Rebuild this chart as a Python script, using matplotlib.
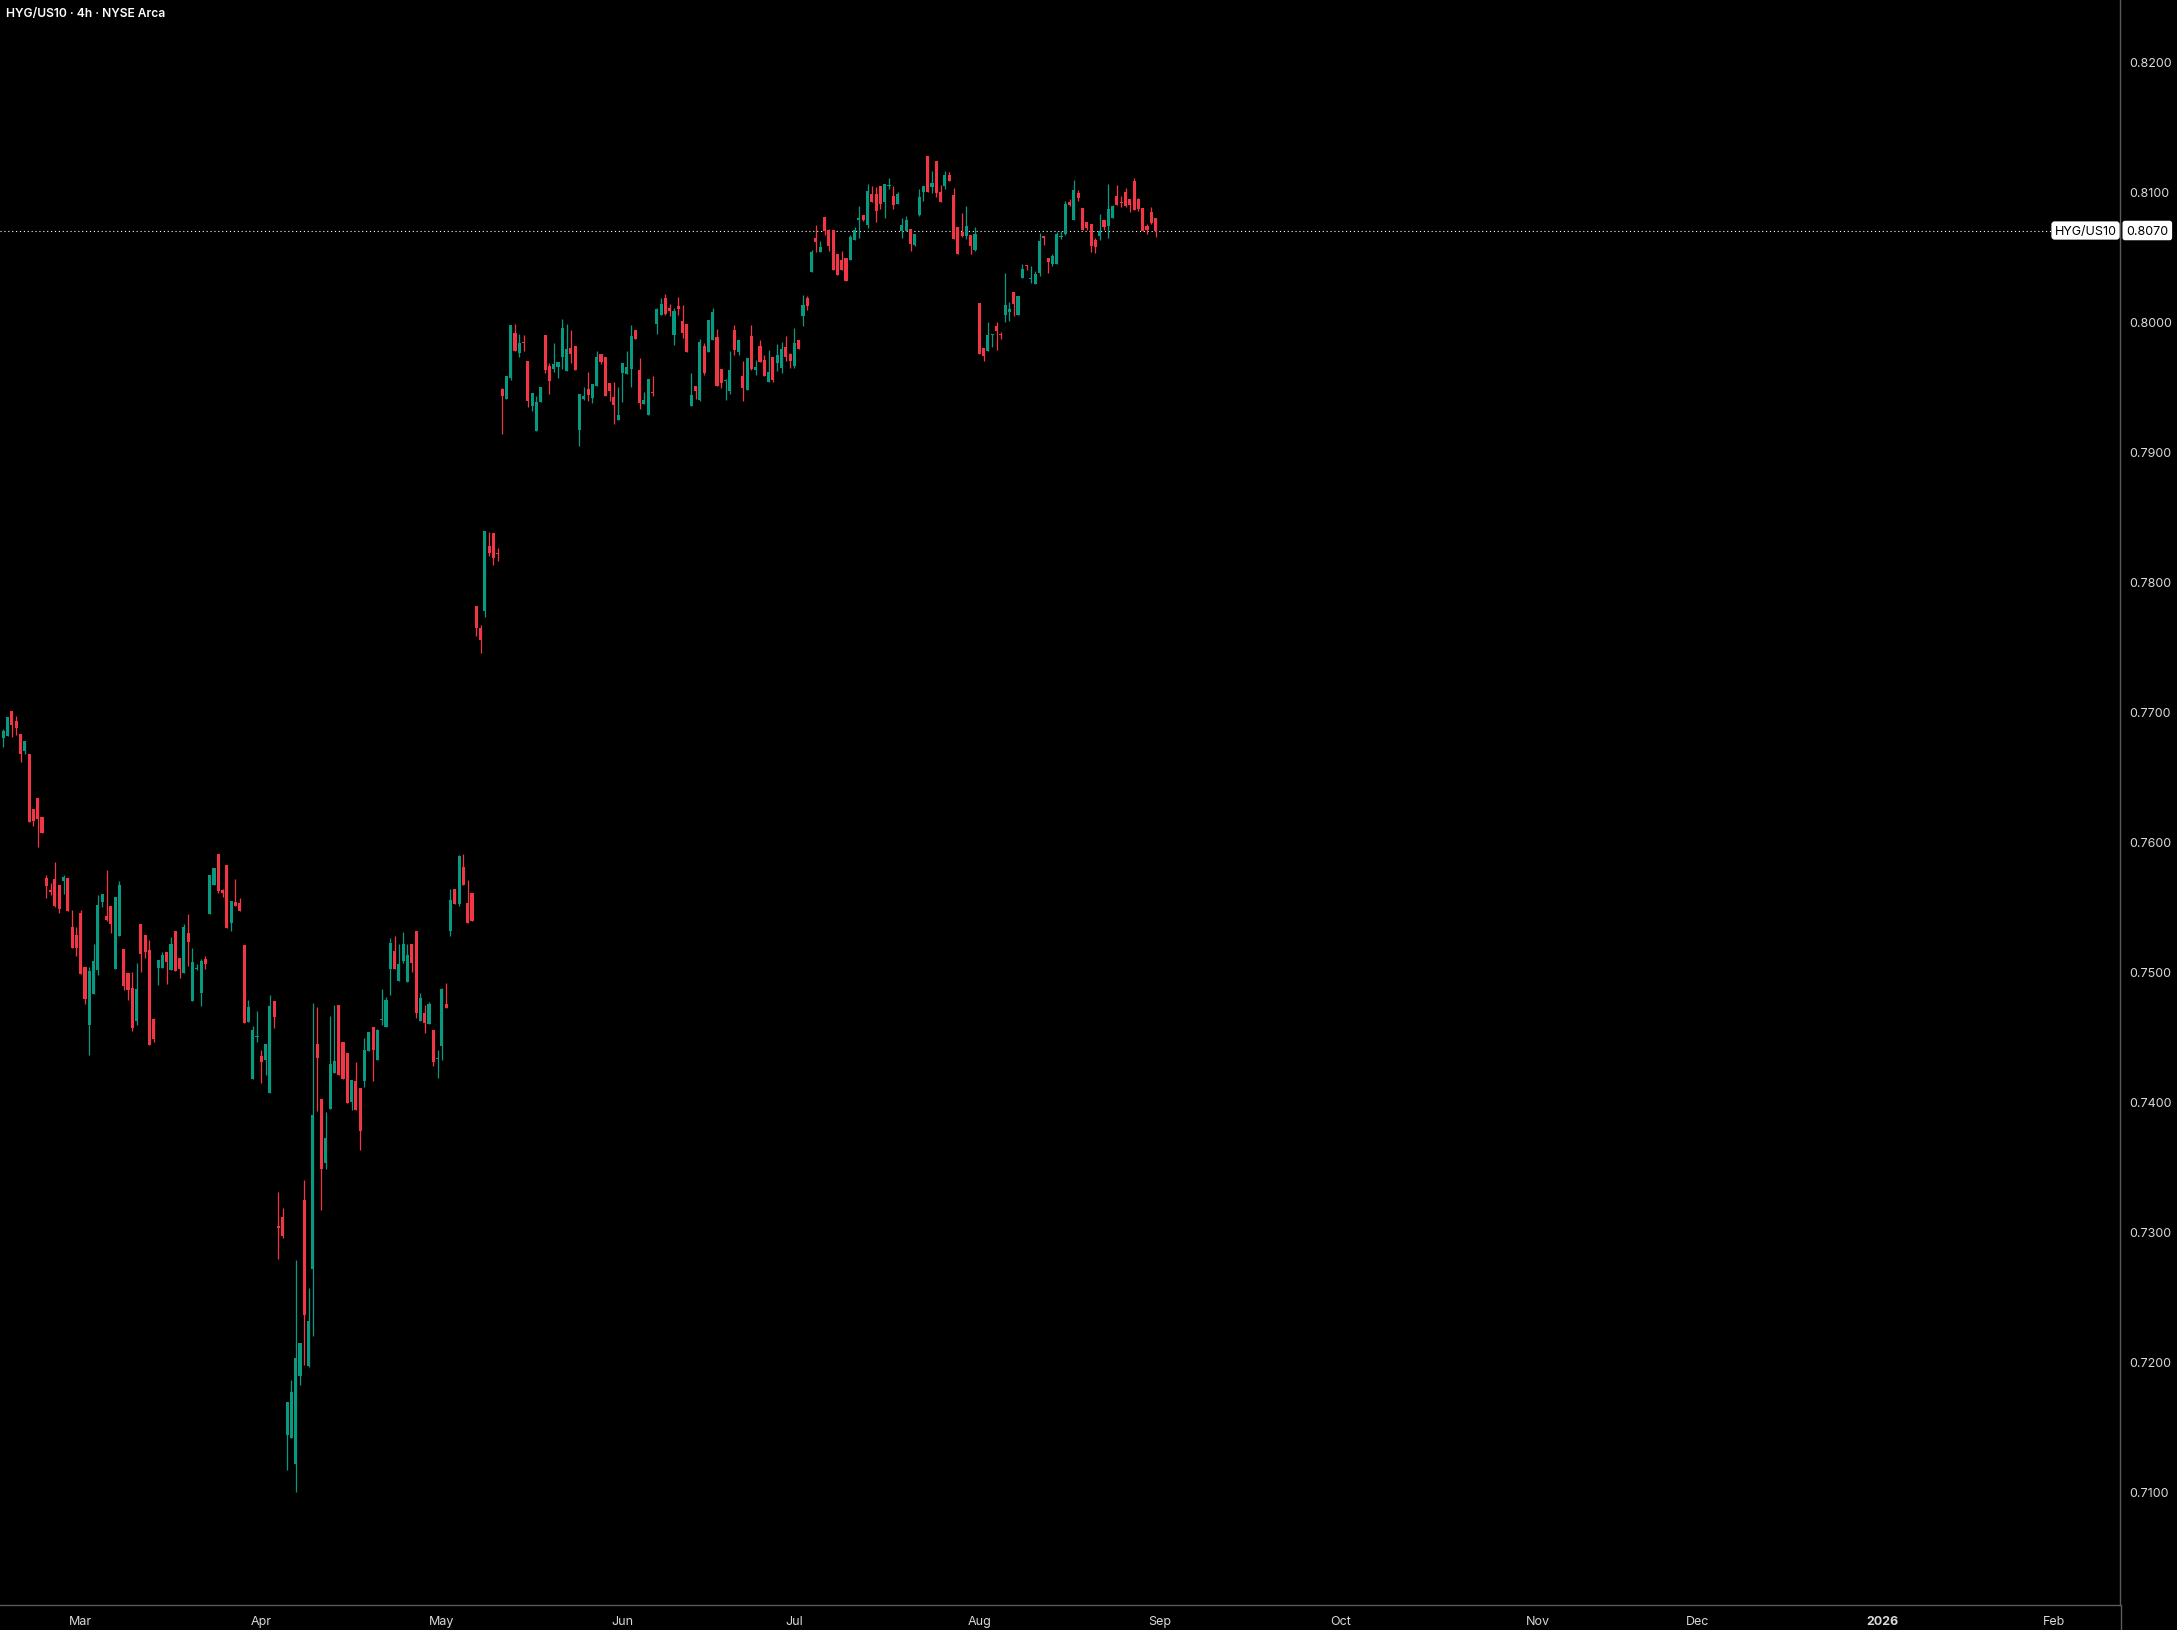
import numpy as np
import matplotlib.pyplot as plt

plt.rcParams['font.family'] = ['Inter', 'DejaVu Sans']

title = "HYG/US10 · 4h · NYSE Arca"
symbol = "HYG/US10"

# 4h bars, Feb 18 2025 -> Aug 29 2025 (bar index = x position)
opens = [
    0.76796, 0.76814, 0.77004, 0.76927, 0.76827, 0.76699, 0.76673, 0.76250, 0.76335, 0.76188,
    0.75719, 0.75630, 0.75712, 0.75665, 0.75696, 0.75719, 0.75342, 0.75281, 0.75450, 0.75035,
    0.74591, 0.74830, 0.75014, 0.75537, 0.75427, 0.75504, 0.75022, 0.75276, 0.75173, 0.74989,
    0.74873, 0.74622, 0.75365, 0.75281, 0.75165, 0.74637, 0.75030, 0.75030, 0.75150, 0.75014,
    0.75312, 0.75104, 0.74991, 0.75296, 0.74776, 0.75019, 0.74837, 0.75096, 0.75445, 0.75668,
    0.75904, 0.75627, 0.75819, 0.75376, 0.75535, 0.75527, 0.75204, 0.74614, 0.74176, 0.74499,
    0.74353, 0.74322, 0.74068, 0.74773, 0.73040, 0.73111, 0.71436, 0.71414, 0.71213, 0.71892,
    0.73241, 0.71966, 0.72715, 0.74443, 0.74019, 0.73528, 0.73946, 0.74220, 0.74743, 0.74456,
    0.74373, 0.73997, 0.74157, 0.74102, 0.74157, 0.74389, 0.74574, 0.74316, 0.74628, 0.74574,
    0.75021, 0.75158, 0.74928, 0.75081, 0.74919, 0.75212, 0.75311, 0.74619, 0.74680, 0.74597,
    0.74549, 0.74326, 0.74428, 0.74750, 0.75311, 0.75636, 0.75518, 0.75805, 0.75528, 0.75604,
    0.77812, 0.77643, 0.77773, 0.78273, 0.78373, 0.78219, 0.79481, 0.79404, 0.79565, 0.79912,
    0.79758, 0.79842, 0.79696, 0.79350, 0.79158, 0.79381, 0.79896, 0.79658, 0.79635, 0.79650,
    0.79727, 0.79619, 0.79796, 0.79812, 0.79165, 0.79404, 0.79481, 0.79412, 0.79504, 0.79750,
    0.79727, 0.79527, 0.79419, 0.79242, 0.79604, 0.79596, 0.79635, 0.79935, 0.79627, 0.79365,
    0.79281, 0.79458, 0.79981, 0.80050, 0.80181, 0.80104, 0.79896, 0.80119, 0.80004, 0.79981,
    0.79350, 0.79504, 0.79396, 0.79812, 0.79765, 0.79858, 0.79881, 0.79635, 0.79542, 0.79465,
    0.79935, 0.79765, 0.79581, 0.79473, 0.79889, 0.79627, 0.79812, 0.79704, 0.79535, 0.79727,
    0.79681, 0.79642, 0.79804, 0.79750, 0.79658, 0.79858, 0.80042, 0.80181, 0.80381, 0.80642,
    0.80535, 0.80804, 0.80704, 0.80704, 0.80519, 0.80473, 0.80489, 0.80473, 0.80627, 0.80783,
    0.80819, 0.80742, 0.80981, 0.80981, 0.81042, 0.80919, 0.81040, 0.80965, 0.80904, 0.80696,
    0.80696, 0.80712, 0.80589, 0.80819, 0.80996, 0.81273, 0.81035, 0.81235, 0.80996, 0.81042,
    0.81127, 0.80973, 0.80727, 0.80689, 0.80658, 0.80665, 0.80550, 0.80142, 0.79796, 0.79773,
    0.79894, 0.79965, 0.79899, 0.80050, 0.80073, 0.80227, 0.80050, 0.80335, 0.80435, 0.80324,
    0.80288, 0.80373, 0.80658, 0.80489, 0.80442, 0.80442, 0.80648, 0.80673, 0.80919, 0.80781,
    0.80989, 0.80873, 0.80765, 0.80750, 0.80627, 0.80658, 0.80781, 0.80735, 0.80796, 0.80965,
    0.80919, 0.80996, 0.80942, 0.81081, 0.80942, 0.80873, 0.80735, 0.80842, 0.80796,
]
highs = [
    0.76865, 0.76960, 0.77004, 0.76965, 0.76827, 0.76773, 0.76673, 0.76250, 0.76335, 0.76188,
    0.75742, 0.75681, 0.75842, 0.75665, 0.75742, 0.75719, 0.75473, 0.75342, 0.75473, 0.75035,
    0.75035, 0.75212, 0.75588, 0.75596, 0.75781, 0.75504, 0.75573, 0.75696, 0.75173, 0.74989,
    0.74996, 0.75065, 0.75365, 0.75281, 0.75242, 0.74645, 0.75088, 0.75150, 0.75150, 0.75265,
    0.75312, 0.75104, 0.75365, 0.75442, 0.75181, 0.75058, 0.75096, 0.75119, 0.75742, 0.75796,
    0.75904, 0.75635, 0.75819, 0.75542, 0.75712, 0.75565, 0.75204, 0.74781, 0.74583, 0.74696,
    0.74399, 0.74445, 0.74819, 0.74773, 0.73305, 0.73181, 0.71688, 0.71857, 0.72782, 0.72141,
    0.73398, 0.72565, 0.74759, 0.74727, 0.74019, 0.73921, 0.74657, 0.74746, 0.74743, 0.74456,
    0.74373, 0.74166, 0.74303, 0.74102, 0.74485, 0.74536, 0.74574, 0.74561, 0.74864, 0.74804,
    0.75257, 0.75273, 0.75212, 0.75305, 0.75212, 0.75212, 0.75311, 0.74836, 0.74743, 0.74766,
    0.74549, 0.74396, 0.74874, 0.74912, 0.75636, 0.75636, 0.75894, 0.75904, 0.75703, 0.75604,
    0.77812, 0.77666, 0.78389, 0.78381, 0.78373, 0.78258, 0.79486, 0.79581, 0.79973, 0.79981,
    0.79904, 0.79896, 0.79696, 0.79450, 0.79427, 0.79496, 0.79896, 0.79681, 0.79835, 0.79689,
    0.80019, 0.79981, 0.79935, 0.79812, 0.79442, 0.79496, 0.79612, 0.79519, 0.79773, 0.79750,
    0.79727, 0.79527, 0.79535, 0.79496, 0.79681, 0.79773, 0.79973, 0.79935, 0.79719, 0.79458,
    0.79558, 0.79581, 0.80104, 0.80181, 0.80212, 0.80135, 0.80104, 0.80189, 0.80127, 0.79981,
    0.79604, 0.79504, 0.79865, 0.79835, 0.80012, 0.80104, 0.79942, 0.79635, 0.79558, 0.79773,
    0.79973, 0.79858, 0.79696, 0.79719, 0.79973, 0.79704, 0.79858, 0.79742, 0.79781, 0.79727,
    0.79827, 0.79842, 0.79889, 0.79758, 0.79950, 0.79858, 0.80204, 0.80196, 0.80550, 0.80742,
    0.80619, 0.80804, 0.80712, 0.80704, 0.80519, 0.80542, 0.80489, 0.80665, 0.80727, 0.80889,
    0.80819, 0.81058, 0.81042, 0.81035, 0.81042, 0.81058, 0.81104, 0.81042, 0.80996, 0.80796,
    0.80812, 0.80712, 0.80673, 0.81019, 0.81042, 0.81273, 0.81158, 0.81235, 0.81050, 0.81158,
    0.81150, 0.81027, 0.80727, 0.80835, 0.80889, 0.80665, 0.80727, 0.80142, 0.79796, 0.79996,
    0.79904, 0.79996, 0.79919, 0.80373, 0.80150, 0.80227, 0.80196, 0.80442, 0.80435, 0.80427,
    0.80388, 0.80681, 0.80658, 0.80489, 0.80519, 0.80689, 0.80696, 0.80927, 0.80942, 0.81088,
    0.81012, 0.80873, 0.80765, 0.80750, 0.80642, 0.80827, 0.80781, 0.81058, 0.80896, 0.81050,
    0.80965, 0.81027, 0.80942, 0.81104, 0.80950, 0.80873, 0.80750, 0.80881, 0.80796,
]
lows = [
    0.76729, 0.76814, 0.76806, 0.76822, 0.76614, 0.76676, 0.76152, 0.76122, 0.75960, 0.76068,
    0.75563, 0.75591, 0.75499, 0.75453, 0.75599, 0.75468, 0.75183, 0.75122, 0.74983, 0.74753,
    0.74360, 0.74830, 0.74976, 0.75499, 0.75391, 0.75299, 0.75022, 0.75276, 0.74860, 0.74783,
    0.74545, 0.74591, 0.74999, 0.75106, 0.74437, 0.74460, 0.74899, 0.75030, 0.74906, 0.75014,
    0.75006, 0.74953, 0.74991, 0.75045, 0.74776, 0.75014, 0.74737, 0.75022, 0.75445, 0.75668,
    0.75606, 0.75576, 0.75337, 0.75314, 0.75506, 0.75468, 0.74607, 0.74614, 0.74176, 0.74460,
    0.74145, 0.74207, 0.74068, 0.74568, 0.72792, 0.72951, 0.71168, 0.71414, 0.70999, 0.71822,
    0.71972, 0.71959, 0.72195, 0.73924, 0.73162, 0.73484, 0.73946, 0.74220, 0.74204, 0.74172,
    0.73987, 0.73936, 0.73936, 0.73630, 0.74115, 0.74389, 0.74160, 0.74316, 0.74587, 0.74574,
    0.74823, 0.75021, 0.74928, 0.75065, 0.74919, 0.74998, 0.74641, 0.74619, 0.74526, 0.74597,
    0.74274, 0.74182, 0.74319, 0.74718, 0.75273, 0.75518, 0.75502, 0.75665, 0.75371, 0.75387,
    0.77581, 0.77450, 0.77727, 0.78196, 0.78127, 0.78158, 0.79135, 0.79404, 0.79550, 0.79773,
    0.79727, 0.79773, 0.79342, 0.79312, 0.79158, 0.79381, 0.79604, 0.79442, 0.79612, 0.79565,
    0.79635, 0.79619, 0.79681, 0.79627, 0.79042, 0.79396, 0.79389, 0.79373, 0.79504, 0.79673,
    0.79427, 0.79389, 0.79212, 0.79242, 0.79381, 0.79596, 0.79496, 0.79865, 0.79327, 0.79365,
    0.79281, 0.79427, 0.79904, 0.80050, 0.80050, 0.80042, 0.79819, 0.80050, 0.79873, 0.79765,
    0.79350, 0.79404, 0.79389, 0.79589, 0.79765, 0.79858, 0.79504, 0.79489, 0.79396, 0.79442,
    0.79742, 0.79742, 0.79389, 0.79473, 0.79627, 0.79589, 0.79689, 0.79581, 0.79535, 0.79535,
    0.79619, 0.79604, 0.79696, 0.79642, 0.79642, 0.79789, 0.79966, 0.80088, 0.80381, 0.80535,
    0.80535, 0.80665, 0.80542, 0.80396, 0.80358, 0.80396, 0.80312, 0.80473, 0.80627, 0.80642,
    0.80773, 0.80719, 0.80919, 0.80765, 0.80865, 0.80796, 0.81019, 0.80865, 0.80904, 0.80642,
    0.80696, 0.80542, 0.80581, 0.80812, 0.80927, 0.80996, 0.80989, 0.80958, 0.80919, 0.81019,
    0.81081, 0.80635, 0.80519, 0.80650, 0.80635, 0.80519, 0.80542, 0.79750, 0.79696, 0.79773,
    0.79804, 0.79781, 0.79865, 0.79996, 0.80004, 0.80042, 0.80050, 0.80335, 0.80396, 0.80296,
    0.80288, 0.80350, 0.80589, 0.80373, 0.80427, 0.80442, 0.80635, 0.80665, 0.80889, 0.80781,
    0.80927, 0.80704, 0.80704, 0.80535, 0.80527, 0.80627, 0.80704, 0.80642, 0.80796, 0.80896,
    0.80881, 0.80881, 0.80842, 0.80858, 0.80850, 0.80696, 0.80673, 0.80750, 0.80650,
]
closes = [
    0.76853, 0.76958, 0.76899, 0.76873, 0.76676, 0.76773, 0.76152, 0.76160, 0.76176, 0.76068,
    0.75660, 0.75614, 0.75506, 0.75483, 0.75727, 0.75468, 0.75183, 0.75183, 0.74983, 0.74791,
    0.75004, 0.75081, 0.75512, 0.75596, 0.75399, 0.75365, 0.75573, 0.75665, 0.74891, 0.74860,
    0.74568, 0.74865, 0.75137, 0.75153, 0.74437, 0.74483, 0.75088, 0.75129, 0.75076, 0.75212,
    0.75006, 0.75022, 0.75342, 0.75229, 0.75073, 0.75027, 0.75081, 0.75058, 0.75742, 0.75796,
    0.75622, 0.75606, 0.75337, 0.75542, 0.75506, 0.75468, 0.74607, 0.74727, 0.74553, 0.74504,
    0.74307, 0.74445, 0.74737, 0.74653, 0.73028, 0.72967, 0.71688, 0.71765, 0.72026, 0.72141,
    0.72361, 0.72310, 0.73895, 0.74338, 0.73477, 0.73720, 0.74287, 0.74313, 0.74204, 0.74172,
    0.73987, 0.74166, 0.73936, 0.73774, 0.74396, 0.74536, 0.74396, 0.74549, 0.74638, 0.74782,
    0.75218, 0.75021, 0.75059, 0.75212, 0.75126, 0.75065, 0.74680, 0.74797, 0.74603, 0.74750,
    0.74303, 0.74335, 0.74864, 0.74718, 0.75550, 0.75518, 0.75885, 0.75665, 0.75371, 0.75387,
    0.77645, 0.77550, 0.78389, 0.78219, 0.78181, 0.78214, 0.79427, 0.79581, 0.79973, 0.79773,
    0.79835, 0.79837, 0.79389, 0.79450, 0.79381, 0.79496, 0.79627, 0.79542, 0.79673, 0.79689,
    0.79950, 0.79789, 0.79750, 0.79627, 0.79442, 0.79427, 0.79435, 0.79519, 0.79727, 0.79689,
    0.79427, 0.79465, 0.79358, 0.79281, 0.79681, 0.79650, 0.79889, 0.79865, 0.79373, 0.79396,
    0.79558, 0.79453, 0.80096, 0.80135, 0.80058, 0.80081, 0.80081, 0.80096, 0.79912, 0.79765,
    0.79435, 0.79465, 0.79842, 0.79604, 0.80012, 0.80073, 0.79504, 0.79527, 0.79550, 0.79627,
    0.79781, 0.79858, 0.79489, 0.79719, 0.79635, 0.79650, 0.79689, 0.79581, 0.79612, 0.79550,
    0.79742, 0.79789, 0.79727, 0.79696, 0.79835, 0.79789, 0.80127, 0.80119, 0.80535, 0.80612,
    0.80573, 0.80696, 0.80581, 0.80396, 0.80358, 0.80396, 0.80312, 0.80650, 0.80704, 0.80794,
    0.80781, 0.81004, 0.80919, 0.80850, 0.80904, 0.81058, 0.81045, 0.80896, 0.80981, 0.80742,
    0.80781, 0.80596, 0.80673, 0.80958, 0.81042, 0.80996, 0.81065, 0.80989, 0.80919, 0.81127,
    0.81081, 0.80635, 0.80519, 0.80658, 0.80735, 0.80581, 0.80673, 0.79750, 0.79735, 0.79896,
    0.79899, 0.79927, 0.79894, 0.80127, 0.80096, 0.80135, 0.80196, 0.80404, 0.80429, 0.80330,
    0.80365, 0.80619, 0.80642, 0.80458, 0.80504, 0.80673, 0.80653, 0.80904, 0.80896, 0.81012,
    0.80950, 0.80704, 0.80719, 0.80581, 0.80573, 0.80696, 0.80727, 0.80865, 0.80889, 0.80896,
    0.80909, 0.80889, 0.80896, 0.80858, 0.80865, 0.80696, 0.80704, 0.80758, 0.80700,
]

# first bar of each month (bar index), as placed on the time axis
month_bars = [18, 60, 102, 144, 184, 227, 269, 311, 357, 394, 437, 477]
month_labels = ["Mar", "Apr", "May", "Jun", "Jul", "Aug", "Sep",
                "Oct", "Nov", "Dec", "2026", "Feb"]
price_ticks = [0.71, 0.72, 0.73, 0.74, 0.75, 0.76, 0.77, 0.78, 0.79, 0.80, 0.81, 0.82]

UP = "#089981"
DOWN = "#f23645"
TXT = "#d9d9d9"
GRID = "#5a5a5a"

W, H = 2177, 1631
fig = plt.figure(figsize=(W / 100, H / 100), dpi=100, facecolor="black")
ax = fig.add_axes([0, 25 / H, 2120 / W, 1 - 25 / H])
ax.set_facecolor("black")

o = np.array(opens)
h = np.array(highs)
l = np.array(lows)
c = np.array(closes)
x = np.arange(len(o))
colors = np.where(c >= o, UP, DOWN)

ax.vlines(x, l, h, colors=colors, lw=0.9, zorder=2)
body = np.maximum(np.abs(c - o), 0.00008)
ax.bar(x, body, bottom=np.minimum(o, c), width=0.72, color=colors,
       linewidth=0, zorder=3)

ax.set_xlim(-0.77, 492.3)
ax.set_ylim(0.701269, 0.824808)

# price axis on the right
ax.yaxis.tick_right()
ax.set_yticks(price_ticks)
ax.set_yticklabels([f"{p:.4f}" for p in price_ticks])
ax.tick_params(axis="y", length=0, pad=7, labelsize=9, labelcolor=TXT)

# time axis
ax.set_xticks(month_bars)
ax.set_xticklabels(month_labels)
ax.tick_params(axis="x", length=0, pad=7.5, labelsize=9, labelcolor=TXT)
for lbl in ax.get_xticklabels():
    if lbl.get_text() == "2026":
        lbl.set_fontweight("bold")

for side in ["top", "left"]:
    ax.spines[side].set_visible(False)
for side in ["right", "bottom"]:
    ax.spines[side].set_color(GRID)
    ax.spines[side].set_linewidth(1)
fig.add_artist(plt.Line2D([2120.5 / W] * 2, [0, 25 / H], color=GRID, lw=1))

# last price line + labels
last = c[-1]
ax.axhline(last, color="white", lw=0.8, ls=(0, (1, 2.5)), zorder=1)
ax.annotate(symbol, xy=(1, last), xycoords=("axes fraction", "data"),
            xytext=(-2.5, 0), textcoords="offset points", ha="right", va="center",
            fontsize=9, color="black", annotation_clip=False, zorder=5,
            bbox=dict(boxstyle="round,pad=0.25,rounding_size=0.25", fc="white", ec="none"))
ax.annotate(f"{last:.4f}", xy=(1, last), xycoords=("axes fraction", "data"),
            xytext=(4.5, 0), textcoords="offset points", ha="left", va="center",
            fontsize=9, color="black", annotation_clip=False, zorder=5,
            bbox=dict(boxstyle="round,pad=0.3,rounding_size=0.2", fc="white", ec="none"))

fig.text(6 / W, 1 - 14 / H, title, color="white", fontsize=8.7,
         fontweight="semibold", ha="left", va="center")

fig.savefig("out.png", dpi=100, facecolor="black")
